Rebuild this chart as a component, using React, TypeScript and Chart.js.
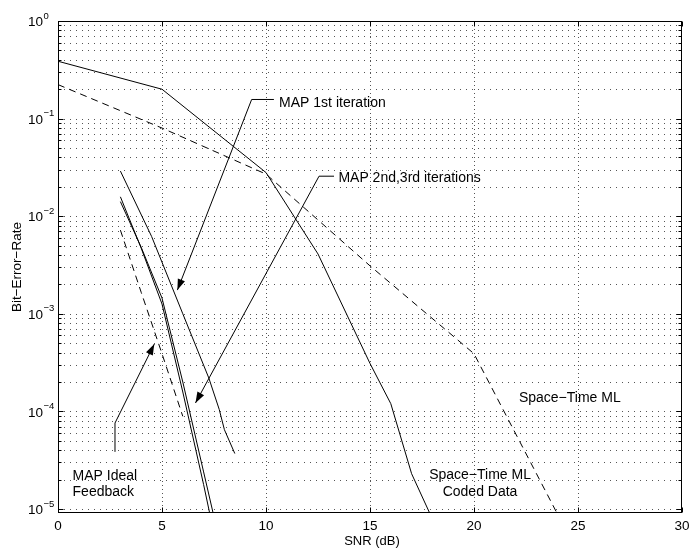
import React, { useEffect, useRef } from "react";
import { Chart, registerables } from "chart.js";

Chart.register(...registerables);

// ---- Data ----
const snrSTCoded = [0, 5, 10, 12.5, 15, 16, 17, 18];
const berSTCoded = [0.387, 0.2, 0.028, 4.1e-3, 3.1e-4, 1.2e-4, 2.3e-5, 7.9e-6];

const snrSTML = [0, 5, 10, 15, 20, 25];
const berSTML = [0.223, 0.08, 0.027, 3.1e-3, 3.9e-4, 3.5e-6];

const snrMAP1 = [3, 4.5, 6, 7.25, 7.75, 8, 8.5];
const berMAP1 = [0.029, 6.2e-3, 1.0e-3, 2.2e-4, 1.05e-4, 6.5e-5, 3.7e-5];

const snrMAP23 = [3, 4, 5, 6, 7, 7.5];
const berMAP2 = [0.0158, 4.7e-3, 1.26e-3, 1.58e-4, 1.78e-5, 5.6e-6];
const berMAP3 = [0.0141, 4.8e-3, 1.45e-3, 2.0e-4, 2.4e-5, 8.3e-6];

const snrIdeal = [3, 4, 5, 6];
const berIdeal = [7.2e-3, 1.66e-3, 3.9e-4, 8.9e-5];

const xTicks = [0, 5, 10, 15, 20, 25, 30];
const yDecades = [0, -1, -2, -3, -4, -5];

const xTitle = "SNR (dB)";
const yTitle = "Bit\u2212Error\u2212Rate";

// annotation texts (data coordinates)
const textLabels = [
  { text: "MAP 1st iteration", x: 10.63, y: 0.144, align: "left" },
  { text: "MAP 2nd,3rd iterations", x: 13.48, y: 0.0245, align: "left" },
  { text: "Space\u2212Time ML", x: 22.16, y: 1.37e-4, align: "left" },
  { text: "Space\u2212Time ML", x: 20.29, y: 2.24e-5, align: "center" },
  { text: "Coded Data", x: 20.29, y: 1.5e-5, align: "center" },
  { text: "MAP Ideal", x: 0.7, y: 2.19e-5, align: "left" },
  { text: "Feedback", x: 0.7, y: 1.48e-5, align: "left" },
];

// leader polylines, last point is the arrow tip (data coordinates)
const arrows = [
  { pts: [[10.38, 0.157], [9.31, 0.157], [5.74, 1.75e-3]] },
  { pts: [[13.27, 0.0257], [12.55, 0.0257], [6.61, 1.22e-4]] },
  { pts: [[2.74, 3.85e-5], [2.74, 7.6e-5], [4.63, 4.9e-4]] },
];

const FONT = '"Liberation Sans", Arial, Helvetica, sans-serif';

const toXY = (xs: number[], ys: number[]) => xs.map((x, i) => ({ x, y: ys[i] }));

const decorPlugin = {
  id: "decor",
  beforeDatasetsDraw(chart: any) {
    const { ctx, chartArea } = chart;
    const sx = chart.scales.x;
    const sy = chart.scales.y;
    const { left, right, top, bottom } = chartArea;
    ctx.save();
    ctx.strokeStyle = "#555";
    ctx.lineWidth = 1;
    // horizontal dotted grid (log major + minor)
    ctx.setLineDash([1, 5]);
    for (let k = -5; k <= -1; k++) {
      for (let m = 1; m <= 9; m++) {
        const v = m * Math.pow(10, k);
        const y = Math.round(sy.getPixelForValue(v)) + 0.5;
        if (y > bottom || y < top) continue;
        ctx.beginPath();
        ctx.moveTo(left, y);
        ctx.lineTo(right, y);
        ctx.stroke();
      }
    }
    // vertical dotted grid
    ctx.setLineDash([1, 3]);
    for (const v of xTicks) {
      if (v === 0 || v === 30) continue;
      const x = Math.round(sx.getPixelForValue(v)) + 0.5;
      ctx.beginPath();
      ctx.moveTo(x, top);
      ctx.lineTo(x, bottom);
      ctx.stroke();
    }
    ctx.restore();
  },
  afterDatasetsDraw(chart: any) {
    const { ctx, chartArea } = chart;
    const sx = chart.scales.x;
    const sy = chart.scales.y;
    const { left, right, top, bottom } = chartArea;
    ctx.save();
    ctx.strokeStyle = "#000";
    ctx.fillStyle = "#000";
    ctx.lineWidth = 1;
    ctx.setLineDash([]);
    // box
    const L = Math.round(left) + 0.5;
    const R = Math.round(right) - 0.5;
    const T = Math.round(top) + 0.5;
    const B = Math.round(bottom) - 0.5;
    ctx.strokeRect(L, T, R - L, B - T);
    // y ticks (inside, both sides)
    for (let k = -5; k <= 0; k++) {
      for (let m = 1; m <= 9; m++) {
        if (k === 0 && m > 1) break;
        const v = m * Math.pow(10, k);
        const y = Math.round(sy.getPixelForValue(v)) + 0.5;
        if (y > bottom) continue;
        const len = m === 1 ? 5 : 3;
        ctx.beginPath();
        ctx.moveTo(L, y);
        ctx.lineTo(L + len, y);
        ctx.moveTo(R, y);
        ctx.lineTo(R - len, y);
        ctx.stroke();
      }
    }
    // x ticks
    for (const v of xTicks) {
      const x = Math.round(sx.getPixelForValue(v)) + 0.5;
      ctx.beginPath();
      ctx.moveTo(x, B);
      ctx.lineTo(x, B - 5);
      ctx.moveTo(x, T);
      ctx.lineTo(x, T + 5);
      ctx.stroke();
    }
    // x tick labels
    ctx.font = `13.5px ${FONT}`;
    ctx.textAlign = "center";
    ctx.textBaseline = "middle";
    for (const v of xTicks) {
      ctx.fillText(String(v), sx.getPixelForValue(v), bottom + 13.5);
    }
    // y tick labels 10^k
    for (const k of yDecades) {
      const y = sy.getPixelForValue(Math.pow(10, k));
      ctx.font = `13.5px ${FONT}`;
      ctx.textAlign = "left";
      ctx.textBaseline = "middle";
      const base = "10";
      ctx.fillText(base, 28, y + 1.5);
      const w = ctx.measureText(base).width;
      ctx.font = `9.5px ${FONT}`;
      const exp = k === 0 ? "0" : "\u2212" + String(-k);
      ctx.fillText(exp, 28 + w + 0.5, y - 5);
    }
    // axis titles
    ctx.font = `13px ${FONT}`;
    ctx.textAlign = "center";
    ctx.textBaseline = "middle";
    ctx.fillText(xTitle, (left + right) / 2 + 2, bottom + 28.5);
    ctx.save();
    ctx.translate(17.5, (top + bottom) / 2);
    ctx.rotate(-Math.PI / 2);
    ctx.font = `13.5px ${FONT}`;
    ctx.fillText(yTitle, 0, 0);
    ctx.restore();
    // annotation arrows
    for (const a of arrows) {
      const p = a.pts.map(([x, y]) => [sx.getPixelForValue(x), sy.getPixelForValue(y)]);
      ctx.beginPath();
      ctx.moveTo(p[0][0], p[0][1]);
      for (let i = 1; i < p.length; i++) ctx.lineTo(p[i][0], p[i][1]);
      ctx.stroke();
      const [tx, ty] = p[p.length - 1];
      const [fx, fy] = p[p.length - 2];
      const ang = Math.atan2(ty - fy, tx - fx);
      const len = 11;
      const hw = 3.8;
      const bx = tx - len * Math.cos(ang);
      const by = ty - len * Math.sin(ang);
      ctx.beginPath();
      ctx.moveTo(tx, ty);
      ctx.lineTo(bx + hw * Math.sin(ang), by - hw * Math.cos(ang));
      ctx.lineTo(bx - hw * Math.sin(ang), by + hw * Math.cos(ang));
      ctx.closePath();
      ctx.fill();
    }
    // annotation texts
    ctx.font = `14px ${FONT}`;
    ctx.textBaseline = "middle";
    for (const t of textLabels) {
      ctx.textAlign = t.align as CanvasTextAlign;
      ctx.fillText(t.text, sx.getPixelForValue(t.x), sy.getPixelForValue(t.y));
    }
    ctx.restore();
  },
};

export default function App() {
  const ref = useRef<HTMLCanvasElement | null>(null);
  useEffect(() => {
    document.body.style.margin = "0";
    if (!ref.current) return;
    const line = (label: string, data: any[], dashed: boolean) => ({
      label,
      data,
      borderColor: "#000",
      backgroundColor: "#000",
      borderWidth: 1,
      borderDash: dashed ? [7, 5] : [],
      pointRadius: 0,
      tension: 0,
      fill: false,
    });
    const chart = new Chart(ref.current, {
      type: "line",
      data: {
        datasets: [
          line("Space-Time ML Coded Data", toXY(snrSTCoded, berSTCoded), false),
          line("Space-Time ML", toXY(snrSTML, berSTML), true),
          line("MAP 1st iteration", toXY(snrMAP1, berMAP1), false),
          line("MAP 2nd iteration", toXY(snrMAP23, berMAP2), false),
          line("MAP 3rd iteration", toXY(snrMAP23, berMAP3), false),
          line("MAP Ideal Feedback", toXY(snrIdeal, berIdeal), true),
        ],
      },
      options: {
        animation: false,
        responsive: false,
        maintainAspectRatio: false,
        events: [],
        layout: { padding: { top: 21, right: 8, left: 0, bottom: 0 } },
        plugins: { legend: { display: false }, tooltip: { enabled: false } },
        scales: {
          x: {
            type: "linear",
            min: 0,
            max: 30,
            grid: { display: false },
            border: { display: false },
            ticks: { display: false },
            afterFit: (s: any) => {
              s.height = 35;
            },
          },
          y: {
            type: "logarithmic",
            min: 9.1e-6,
            max: 1,
            grid: { display: false },
            border: { display: false },
            ticks: { display: false },
            afterFit: (s: any) => {
              s.width = 58;
            },
          },
        },
      },
      plugins: [decorPlugin],
    });
    return () => chart.destroy();
  }, []);
  return (
    <div style={{ width: 690, height: 548, background: "#fff" }}>
      <canvas ref={ref} width={690} height={548} style={{ display: "block" }} />
    </div>
  );
}
